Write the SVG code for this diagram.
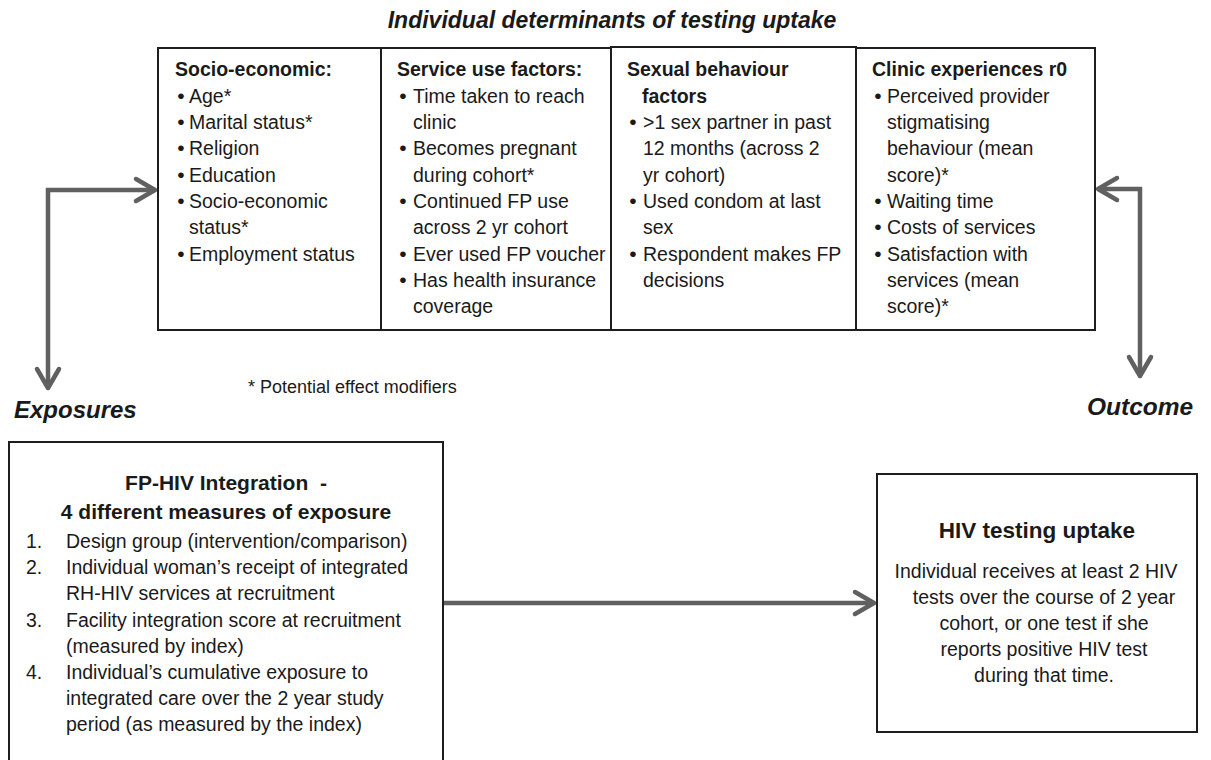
<svg xmlns="http://www.w3.org/2000/svg" width="1211" height="760" viewBox="0 0 1211 760">
<style>
text{font-family:"Liberation Sans",Arial,sans-serif;fill:#1a1a1a;font-size:19.5px}
.b{font-weight:bold}
.bi{font-weight:bold;font-style:italic}
.box{fill:#fff;stroke:#1e1e1e;stroke-width:2}
.con{fill:none;stroke:#606060;stroke-width:4.5;stroke-linejoin:miter}
.bu{text-anchor:middle;font-size:21px}
.c{text-anchor:middle}
</style>
<defs>
<marker id="chev" markerUnits="userSpaceOnUse" markerWidth="30" markerHeight="30" viewBox="-25 -15 30 30" refX="0" refY="0" orient="auto-start-reverse">
<path d="M-19,-11 L0,0 L-19,11" fill="none" stroke="#606060" stroke-width="4.5" stroke-linecap="round" stroke-linejoin="round"/>
</marker>
</defs>
<rect width="1211" height="760" fill="#fff"/>

<text id="title" class="bi" x="612" y="28" text-anchor="middle" style="font-size:23px">Individual determinants of testing uptake</text>

<g id="connectors">
<path class="con" d="M48,388 L48,190 L155,190" marker-start="url(#chev)" marker-end="url(#chev)"/>
<path class="con" d="M1140,376 L1140,189 L1098,189" marker-start="url(#chev)" marker-end="url(#chev)"/>
<path class="con" d="M443,603 L874,603" marker-end="url(#chev)"/>
</g>

<g id="socio-economic">
<rect class="box" x="158" y="48" width="223" height="282"/>
<text class="b" x="175" y="76">Socio-economic:</text>
<text class="bu" x="181" y="102.7">•</text><text x="189" y="102.7">Age*</text>
<text class="bu" x="181" y="129">•</text><text x="189" y="129">Marital status*</text>
<text class="bu" x="181" y="155.3">•</text><text x="189" y="155.3">Religion</text>
<text class="bu" x="181" y="181.6">•</text><text x="189" y="181.6">Education</text>
<text class="bu" x="181" y="207.9">•</text><text x="189" y="207.9">Socio-economic</text>
<text x="189" y="234.2">status*</text>
<text class="bu" x="181" y="260.5">•</text><text x="189" y="260.5">Employment status</text>
</g>

<g id="service-use">
<rect class="box" x="381" y="48" width="230" height="282"/>
<text class="b" x="397" y="76">Service use factors:</text>
<text class="bu" x="403" y="102.7">•</text><text x="413" y="102.7">Time taken to reach</text>
<text x="413" y="129">clinic</text>
<text class="bu" x="403" y="155.3">•</text><text x="413" y="155.3">Becomes pregnant</text>
<text x="413" y="181.6">during cohort*</text>
<text class="bu" x="403" y="207.9">•</text><text x="413" y="207.9">Continued FP use</text>
<text x="413" y="234.2">across 2 yr cohort</text>
<text class="bu" x="403" y="260.5">•</text><text x="413" y="260.5">Ever used FP voucher</text>
<text class="bu" x="403" y="286.8">•</text><text x="413" y="286.8">Has health insurance</text>
<text x="413" y="313.1">coverage</text>
</g>

<g id="sexual-behaviour">
<rect class="box" x="611" y="47" width="245" height="283"/>
<text class="b" x="627" y="76">Sexual behaviour</text>
<text class="b" x="642" y="102.7">factors</text>
<text class="bu" x="633" y="129">•</text><text x="643" y="129">&gt;1 sex partner in past</text>
<text x="643" y="155.3">12 months (across 2</text>
<text x="643" y="181.6">yr cohort)</text>
<text class="bu" x="633" y="207.9">•</text><text x="643" y="207.9">Used condom at last</text>
<text x="643" y="234.2">sex</text>
<text class="bu" x="633" y="260.5">•</text><text x="643" y="260.5">Respondent makes FP</text>
<text x="643" y="286.8">decisions</text>
</g>

<g id="clinic-experiences">
<rect class="box" x="856" y="48" width="239" height="282"/>
<text class="b" x="872" y="76">Clinic experiences r0</text>
<text class="bu" x="878" y="102.7">•</text><text x="887" y="102.7">Perceived provider</text>
<text x="887" y="129">stigmatising</text>
<text x="887" y="155.3">behaviour (mean</text>
<text x="887" y="181.6">score)*</text>
<text class="bu" x="878" y="207.9">•</text><text x="887" y="207.9">Waiting time</text>
<text class="bu" x="878" y="234.2">•</text><text x="887" y="234.2">Costs of services</text>
<text class="bu" x="878" y="260.5">•</text><text x="887" y="260.5">Satisfaction with</text>
<text x="887" y="286.8">services (mean</text>
<text x="887" y="313.1">score)*</text>
</g>

<text id="footnote" x="248" y="393" style="font-size:18px">* Potential effect modifiers</text>
<text id="exposures-label" class="bi" x="14" y="418" style="font-size:24px">Exposures</text>
<text id="outcome-label" class="bi" x="1087" y="415" style="font-size:24.5px">Outcome</text>

<g id="exposure">
<rect class="box" x="9" y="442" width="434" height="330"/>
<text class="b c" x="226" y="490" style="font-size:21px" xml:space="preserve">FP-HIV Integration  -</text>
<text class="b c" x="226" y="519" style="font-size:21px">4 different measures of exposure</text>
<text x="26" y="548">1.</text><text x="66" y="548">Design group (intervention/comparison)</text>
<text x="26" y="574.2">2.</text><text x="66" y="574.2">Individual woman’s receipt of integrated</text>
<text x="66" y="600.4">RH-HIV services at recruitment</text>
<text x="26" y="626.6">3.</text><text x="66" y="626.6">Facility integration score at recruitment</text>
<text x="66" y="652.8">(measured by index)</text>
<text x="26" y="679">4.</text><text x="66" y="679">Individual’s cumulative exposure to</text>
<text x="66" y="705.2">integrated care over the 2 year study</text>
<text x="66" y="731.4">period (as measured by the index)</text>
</g>

<g id="outcome">
<rect class="box" x="877" y="474" width="320" height="258"/>
<text class="b c" x="1037" y="538" style="font-size:22.5px">HIV testing uptake</text>
<text class="c" x="1036" y="578">Individual receives at least 2 HIV</text>
<text class="c" x="1044" y="604">tests over the course of 2 year</text>
<text class="c" x="1044" y="630">cohort, or one test if she</text>
<text class="c" x="1044" y="656">reports positive HIV test</text>
<text class="c" x="1044" y="682">during that time.</text>
</g>
</svg>
